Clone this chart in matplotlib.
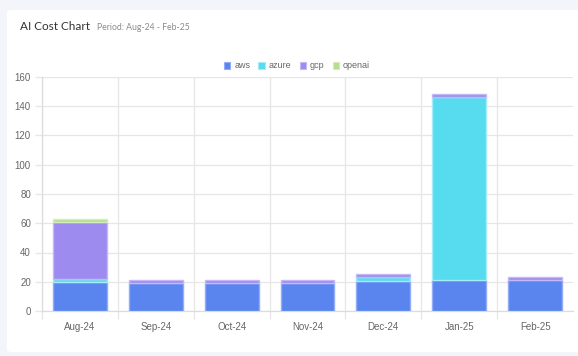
import matplotlib
matplotlib.use("Agg")
import matplotlib.pyplot as plt
from matplotlib.patches import FancyBboxPatch, Patch
import numpy as np

months = ["Aug-24", "Sep-24", "Oct-24", "Nov-24", "Dec-24", "Jan-25", "Feb-25"]
aws = [19.5, 19.2, 19.2, 19.2, 20.8, 21.5, 21.0]
azure = [2.2, 0.0, 0.0, 0.0, 2.3, 124.8, 0.0]
gcp = [39.1, 2.0, 2.0, 2.0, 2.2, 1.8, 2.1]
openai = [2.1, 0.0, 0.0, 0.0, 0.0, 0.0, 0.0]
series_names = ["aws", "azure", "gcp", "openai"]
colors = ["#5b85ee", "#56dcee", "#9d8bef", "#b5de8e"]
edges = ["#93adf5", "#a4ecf6", "#c4b9f6", "#d5edbd"]
yticks = [0, 20, 40, 60, 80, 100, 120, 140, 160]

W, H = 578, 356
fig = plt.figure(figsize=(W / 100, H / 100), dpi=100)
fig.patch.set_facecolor("#f3f5fa")

card = FancyBboxPatch((7 / W, 4 / H), (W + 20) / W, (349 - 7) / H,
                      boxstyle="round,pad=0,rounding_size=0.008",
                      transform=fig.transFigure, facecolor="white",
                      edgecolor="none", zorder=-5)
fig.patches.append(card)

ax = fig.add_axes([42 / W, 1 - 311 / H, (573 - 42) / W, (311 - 77) / H])
ax.set_facecolor("none")
ax.set_zorder(2)

x = np.arange(len(months))
bottom = np.zeros(len(months))
for name, vals, c, e in zip(series_names, [aws, azure, gcp, openai], colors, edges):
    v = np.array(vals)
    m = v > 0
    ax.bar(x[m], v[m], width=0.71, bottom=bottom[m], color=c, edgecolor=e,
           linewidth=1.0, zorder=3)
    bottom += v

ax.set_xlim(-0.5, len(months) - 0.5)
ax.set_ylim(0, 160)
ax.set_yticks(yticks)
ax.set_yticklabels([str(t) for t in yticks])
ax.set_xticks(x)
ax.set_xticklabels(months)
ax.set_xticks(np.arange(-0.5, len(months) - 0.5, 1.0), minor=True)

grid_c = "#e6e6e6"
ax.grid(axis="y", color=grid_c, linewidth=0.9, zorder=0)
ax.grid(axis="x", which="minor", color=grid_c, linewidth=0.9, zorder=0)
ax.grid(axis="x", which="major", visible=False)

ax.tick_params(axis="x", which="major", length=0, pad=8, labelsize=7,
               labelcolor="#666666")
ax.tick_params(axis="x", which="minor", length=6, color=grid_c, width=0.9)
ax.tick_params(axis="y", length=5, color=grid_c, width=0.9, pad=3,
               labelsize=7, labelcolor="#666666")
for lab in ax.get_xticklabels() + ax.get_yticklabels():
    lab.set_fontfamily(["Liberation Sans", "DejaVu Sans"])

for s in ["top", "right"]:
    ax.spines[s].set_visible(False)
for s in ["left", "bottom"]:
    ax.spines[s].set_color("#dcdcdc")
    ax.spines[s].set_linewidth(0.9)

handles = [Patch(facecolor=c, edgecolor=e, linewidth=0.8) for c, e in zip(colors, edges)]
leg = fig.legend(handles, series_names, loc="center", ncol=4,
                 bbox_to_anchor=(297 / W, 1 - 66 / H), frameon=False,
                 handlelength=0.7, handleheight=0.7, handletextpad=0.45,
                 columnspacing=0.9,
                 prop={"family": ["Liberation Sans", "DejaVu Sans"], "size": 6.5})
for t in leg.get_texts():
    t.set_color("#666666")

fig.text(20 / W, 1 - 27 / H, "AI Cost Chart", fontsize=8.5, color="#333333",
         family=["Lato", "DejaVu Sans"], va="center", ha="left")
fig.text(97 / W, 1 - 28 / H, "Period: Aug-24 - Feb-25", fontsize=6.2,
         color="#8a8a8a", family=["Lato", "DejaVu Sans"], va="center", ha="left")

fig.savefig("out.png", dpi=100, facecolor=fig.get_facecolor())
